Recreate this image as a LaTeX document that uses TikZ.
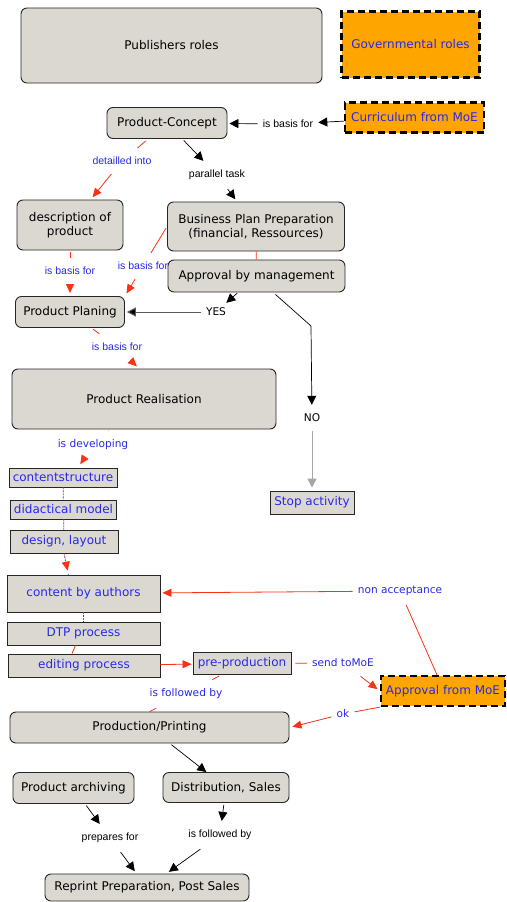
\documentclass[tikz,border=0pt]{standalone}
\usepackage{fontspec}
\setmainfont{DejaVu Sans}
\newfontfamily\lblfont{Liberation Sans}
\usetikzlibrary{arrows.meta,calc}
\definecolor{conceptgray}{RGB}{219,216,209}
\definecolor{linkblue}{RGB}{40,40,235}
\definecolor{linkred}{RGB}{250,50,20}
\definecolor{moeorange}{RGB}{255,165,0}

\tikzset{
  every node/.style={font=\fontsize{12}{14.5}\selectfont},
  concept/.style={draw=black!85, line width=0.9pt, fill=conceptgray,
    rounded corners=6pt, inner sep=0pt, align=center},
  plainbox/.style={draw=black!85, line width=0.9pt, fill=conceptgray,
    inner sep=0pt, text=linkblue},
  govbox/.style={draw=black, line width=2.2pt, dash pattern=on 7pt off 4pt,
    fill=moeorange, inner sep=0pt, text=linkblue},
  lbla/.style={font=\lblfont\fontsize{10.5}{12}\selectfont, inner xsep=5pt, inner ysep=9pt},
  lblv/.style={font=\fontsize{10.6}{12}\selectfont, inner xsep=5pt, inner ysep=9pt},
  blk/.style={draw=black, line width=0.7pt},
  blkarrow/.style={blk, -{Triangle[length=9pt,width=9pt]}},
  redl/.style={draw=linkred, line width=0.8pt},
  redarrow/.style={redl, -{Triangle[length=9pt,width=8pt]}},
  reddot/.style={draw=linkred, line width=0.8pt, dash pattern=on 2pt off 4pt},
  bluedot/.style={draw=linkblue, line width=0.8pt, dash pattern=on 2pt off 4pt, dash phase=3pt},
}

\begin{document}
\begin{tikzpicture}[x=1pt,y=-1pt]
\fill[white] (0,0) rectangle (506,902);
\useasboundingbox (0,0) rectangle (506,902);

% ---------- concepts ----------
\node[concept, minimum width=301, minimum height=75] (pub) at (171.5,45.5) {Publishers roles};
\node[govbox, minimum width=138, minimum height=66] (gov) at (410.5,44.5) {Governmental roles};
\node[concept, minimum width=120, minimum height=31] (pc) at (167,123) {Product-Concept};
\node[govbox, minimum width=139, minimum height=30] (curr) at (414.5,117.5) {Curriculum from MoE};
\node[concept, minimum width=106, minimum height=50] (desc) at (70,225) {description of\\product};
\node[concept, minimum width=177, minimum height=49] (bpp) at (256,226.5) {Business Plan Preparation\\(financial, Ressources)};
\node[concept, minimum width=177, minimum height=32] (appr) at (256.5,276) {Approval by management};
\node[concept, minimum width=109, minimum height=31] (pp) at (70,312) {Product Planing};
\node[concept, minimum width=264, minimum height=60] (pr) at (144,399) {Product Realisation};
\node[plainbox, minimum width=84, minimum height=23] (stop) at (312,502.5) {Stop activity};
\node[plainbox, minimum width=108, minimum height=19] (cs) at (63,477.5) {contentstructure};
\node[plainbox, minimum width=106, minimum height=19] (dm) at (63.5,509.5) {didactical model};
\node[plainbox, minimum width=108, minimum height=23] (dl) at (64,541.5) {design, layout};
\node[plainbox, minimum width=153, minimum height=37] (cba) at (83.5,593.5) {content by authors};
\node[plainbox, minimum width=153, minimum height=23] (dtp) at (83.5,633.5) {DTP process};
\node[plainbox, minimum width=152, minimum height=23] (ep) at (84,665.5) {editing process};
\node[plainbox, minimum width=98, minimum height=22] (prep) at (242,663.5) {pre-production};
\node[govbox, minimum width=124, minimum height=30] (amoe) at (443,691) {Approval from MoE};
\node[concept, minimum width=279, minimum height=31] (prod) at (149.5,727.5) {Production/Printing};
\node[concept, minimum width=121, minimum height=31] (pa) at (73.5,788) {Product archiving};
\node[concept, minimum width=126, minimum height=30] (dist) at (226,787.5) {Distribution, Sales};
\node[concept, minimum width=204, minimum height=27] (rep) at (147,887.5) {Reprint Preparation, Post Sales};

% ---------- link labels ----------
\node[lbla] (l1) at (288,124) {is basis for};
\node[lbla, text=linkblue] (l2) at (122,161) {detailled into};
\node[lbla] (l3) at (217,175) {parallel task};
\node[lbla, text=linkblue] (l4) at (70,271) {is basis for};
\node[lbla, text=linkblue] (l5) at (143,266) {is basis for};
\node[lblv, inner ysep=5pt] (l6) at (216,312) {YES};
\node[lblv] (l7) at (312,418) {NO};
\node[lbla, text=linkblue] (l8) at (117,347) {is basis for};
\node[lblv, text=linkblue] (l9) at (93,445) {is developing};
\node[lblv, text=linkblue] (l10) at (400,591) {non acceptance};
\node[lblv, text=linkblue] (l11) at (343,663) {send toMoE};
\node[lblv, text=linkblue] (l12) at (343,714) {ok};
\node[lblv, text=linkblue] (l13) at (186,694) {is followed by};
\node[lbla] (l14) at (110,838) {prepares for};
\node[lbla] (l15) at (220,835) {is followed by};

\coordinate (bend) at (311,326);

% ---------- connectors ----------
\draw[blkarrow] (curr) -- (l1);
\draw[blkarrow, shorten >=2pt] (l1) -- (pc);

\draw[redl, shorten <=3pt] (pc) -- (l2);
\draw[redarrow, shorten >=3pt] (l2) -- (desc);

\draw[blkarrow, shorten <=2pt] (pc) -- (l3);
\draw[blkarrow, shorten >=3pt] (l3) -- (bpp);

\draw[redl, shorten <=2pt] (desc) -- (l4);
\draw[redarrow, shorten >=3pt] (l4) -- (pp);

\draw[redl, shorten <=2pt] (bpp.west) -- (l5);
\draw[redarrow, shorten >=3pt] (l5) -- (pp.north east);

\draw[redl] (bpp) -- (appr);

\draw[blkarrow, shorten <=1pt] (appr) -- (l6);
\draw[draw=black!65, line width=1pt, -{Triangle[length=9pt,width=9pt,fill=black]}, shorten >=2pt] (l6) -- (pp);

\draw[blkarrow] ($(appr.south)+(19,2)$) -- (bend) -- (l7);
\draw[draw=black!35, line width=1pt, -{Triangle[length=9pt,width=9pt]}, shorten >=3pt] (l7) -- (stop);

\draw[redl, shorten <=2pt] (pp) -- (l8);
\draw[redarrow, shorten >=3pt] (l8) -- ($(pr.north)+(-5,0)$);

\draw[redl, shorten <=2pt] (pr) -- (l9);
\draw[redarrow, shorten >=4pt] (l9) -- ($(cs.north)+(15,0)$);

\draw[reddot] (cs) -- (dm);
\draw[bluedot] (cs) -- (dm);
\draw[reddot] (dm) -- (dl);
\draw[bluedot] (dm) -- (dl);
\draw[bluedot] (dl.south) -- ($(cba.north)+(-15,0)$);
\draw[reddot, -{Triangle[length=9pt,width=8pt]}, shorten >=4pt] (dl.south) -- ($(cba.north)+(-15,0)$);

\draw[reddot] (cba) -- (dtp);
\draw[bluedot] (cba) -- (dtp);
\draw[redl] ($(dtp.south)+(-8,0)$) -- ($(ep.north)+(-12,0)$);

\draw[redarrow, shorten >=1pt] (ep) -- (prep);

\draw[redl, shorten <=4pt] (prep) -- (l11);
\draw[redarrow, shorten >=3pt] (l11) -- (amoe.west);

\draw[redl] ($(amoe.north)+(-6,0)$) -- (l10);
\draw[redarrow, shorten >=2pt] (l10) -- (cba);

\draw[redl] (amoe.south west) -- (l12);
\draw[redarrow, shorten >=3pt] (l12) -- (prod.east);

\draw[redl, shorten <=2pt] (prep) -- (l13);
\draw[redl] (l13) -- (prod.north);

\draw[blkarrow, shorten <=2pt] (prod) -- (dist);

\draw[blkarrow, shorten <=2pt] (pa) -- (l14);
\draw[blkarrow, shorten >=3pt] (l14) -- (rep);

\draw[blkarrow, shorten <=2pt] (dist) -- (l15);
\draw[blkarrow, shorten >=3pt] (l15) -- (rep);
\end{tikzpicture}
\end{document}
